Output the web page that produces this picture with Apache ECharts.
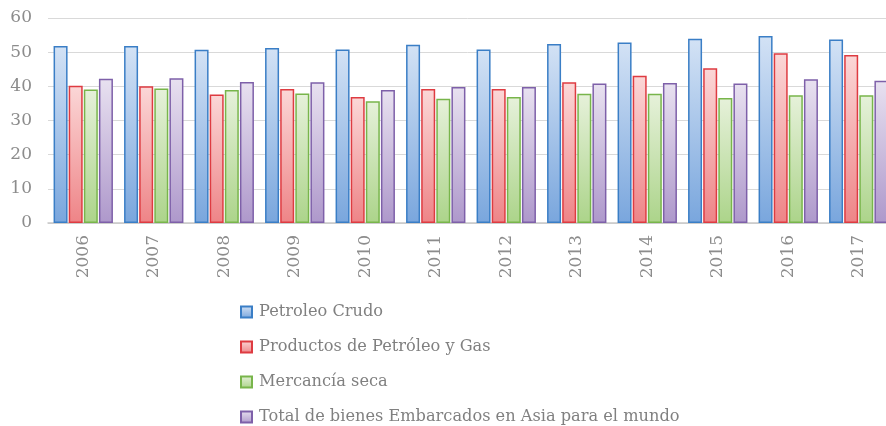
<!DOCTYPE html>
<html>
<head>
<meta charset="utf-8">
<script src="https://cdn.jsdelivr.net/npm/echarts@6/dist/echarts.min.js"></script>
<style>html,body{margin:0;padding:0;background:#fff}#c{width:886px;height:426px}</style>
</head>
<body>
<div id="c"></div>
<script>
var years = ['2006','2007','2008','2009','2010','2011','2012','2013','2014','2015','2016','2017'];
var crudo = [51.8, 51.8, 50.7, 51.2, 50.8, 52.2, 50.8, 52.4, 52.8, 53.9, 54.7, 53.7];
var productos = [40.2, 40.0, 37.6, 39.2, 36.9, 39.2, 39.2, 41.2, 43.1, 45.3, 49.7, 49.2];
var seca = [39.1, 39.4, 38.9, 37.9, 35.6, 36.4, 36.9, 37.8, 37.8, 36.6, 37.4, 37.4];
var total = [42.2, 42.4, 41.3, 41.2, 38.9, 39.8, 39.8, 40.8, 41.0, 40.8, 42.1, 41.6];
var names = ['Petroleo Crudo', 'Productos de Petróleo y Gas', 'Mercancía seca', 'Total de bienes Embarcados en Asia para el mundo'];
var yTicks = [0, 10, 20, 30, 40, 50, 60];

var font = 'DejaVu Serif';
function grad(top, bottom) {
  return new echarts.graphic.LinearGradient(0, 0, 0, 1, [{offset: 0, color: top}, {offset: 1, color: bottom}]);
}
var styles = [
  {fill: grad('#d3e2f5', '#79a6dd'), border: '#3a7ec6'},
  {fill: grad('#fbd7d7', '#ee8487'), border: '#de3b41'},
  {fill: grad('#e6f1da', '#acd48a'), border: '#78b54b'},
  {fill: grad('#e8e1f0', '#ae98cb'), border: '#7e60a9'}
];
var data = [crudo, productos, seca, total];
var series = data.map(function (d, i) {
  return {
    name: names[i], type: 'bar', data: d, barWidth: 14, barGap: '8%',
    itemStyle: {color: styles[i].fill, borderColor: styles[i].border, borderWidth: 1.5},
    emphasis: {disabled: true}
  };
});

var chart = echarts.init(document.getElementById('c'), null, {renderer: 'canvas'});
chart.setOption({
  animation: false,
  backgroundColor: '#ffffff',
  grid: {left: 48, right: -8, top: 18, bottom: 203, containLabel: false, outerBoundsMode: 'none'},
  legend: {
    orient: 'vertical', left: 240, top: 304, height: 200, padding: 0, itemGap: 19, itemWidth: 11, itemHeight: 11,
    icon: 'rect', selectedMode: false,
    textStyle: {fontFamily: font, fontSize: 16.2, color: '#808080', padding: [0, 0, 0, 2]},
    data: names
  },
  xAxis: {
    type: 'category', data: years,
    axisLine: {show: true, lineStyle: {color: '#c8c8c8', width: 1.5}},
    axisTick: {show: false},
    axisLabel: {rotate: 90, fontFamily: font, fontSize: 17, color: '#8c8c8c', margin: 12}
  },
  yAxis: {
    type: 'value', min: yTicks[0], max: yTicks[yTicks.length - 1], interval: 10,
    axisLine: {show: false}, axisTick: {show: false},
    splitLine: {lineStyle: {color: '#d9d9d9', width: 1}},
    axisLabel: {fontFamily: font, fontSize: 17, color: '#8c8c8c', margin: 16}
  },
  series: series
});
</script>
</body>
</html>
